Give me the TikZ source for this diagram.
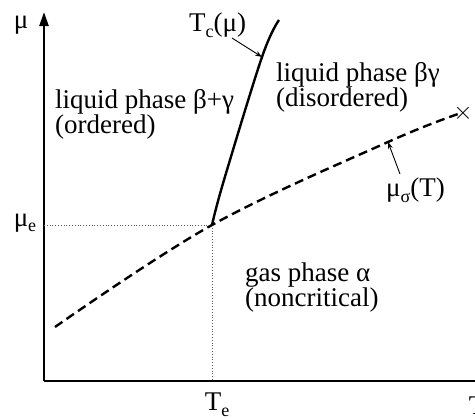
\documentclass[tikz,border=0pt]{standalone}
\usepackage{fontspec}
\setmainfont{Liberation Serif}
\usetikzlibrary{arrows.meta}
\newcommand{\sbs}[1]{\raisebox{-0.45ex}{\fontsize{18}{18}\selectfont #1}}
\begin{document}
\begin{tikzpicture}[x=1pt,y=-1pt,
  lbl/.style={font=\fontsize{27}{25}\selectfont, align=left, inner sep=0pt},
  axis/.style={line width=2.4pt},
  phase/.style={line width=2.4pt},
  guide/.style={line width=0.8pt, dotted, gray!70!black},
  pointer/.style={line width=0.9pt, -{Stealth[length=7pt,width=5pt]}}]
\useasboundingbox (0,0) rectangle (475,418);
% axes
\coordinate (O) at (44,381);
\coordinate (ytop) at (44,12);
\coordinate (xend) at (478,381);
\draw[axis, -{Triangle[length=14pt,width=9pt]}] (O) -- (ytop);
\draw[axis] (O) -- (xend);
% triple point
\coordinate (E) at (212,225);
\coordinate (Ey) at (44,225);
\coordinate (Ex) at (212,381);
\draw[guide] (Ey) -- (E) -- (Ex);
% coexistence line mu_sigma(T)
\coordinate (d0) at (55,327);
\coordinate (d2) at (388,142);
\coordinate (d3) at (461,113);
\draw[phase, dash pattern=on 9pt off 5pt] plot[smooth, tension=0.6] coordinates {(d0) (E) (d2) (d3)};
\node[inner sep=0pt, font=\fontsize{24}{24}\selectfont] (X) at (463,113) {$\times$};
% critical line T_c(mu)
\coordinate (c1) at (224,180);
\coordinate (c2) at (262,57);
\coordinate (c3) at (279,20);
\draw[phase] plot[smooth, tension=0.6] coordinates {(E) (c1) (c2) (c3)};
% labels
\node[lbl] (mu) at (21,25) {μ};
\node[lbl] (mue) at (25,223) {μ\sbs{e}};
\node[lbl] (Te) at (217,405) {T\sbs{e}};
\node[lbl] (T) at (477,406) {T};
\node[lbl, anchor=west] (Tc) at (189,25) {T\sbs{c}(μ)};
\node[lbl, anchor=west] (mus) at (386,190) {μ\sbs{σ}(T)};
\node[lbl, anchor=north west] (ord) at (55,89) {liquid phase β+γ\\(ordered)};
\node[lbl, anchor=north west] (dis) at (276,62) {liquid phase βγ\\(disordered)};
\node[lbl, anchor=north west] (gas) at (245,263) {gas phase α\\(noncritical)};
% pointers
\coordinate (tcs) at (232,38);
\coordinate (mss) at (400,174);
\draw[pointer] (tcs) -- (c2);
\draw[pointer] (mss) -- (d2);
\end{tikzpicture}
\end{document}
